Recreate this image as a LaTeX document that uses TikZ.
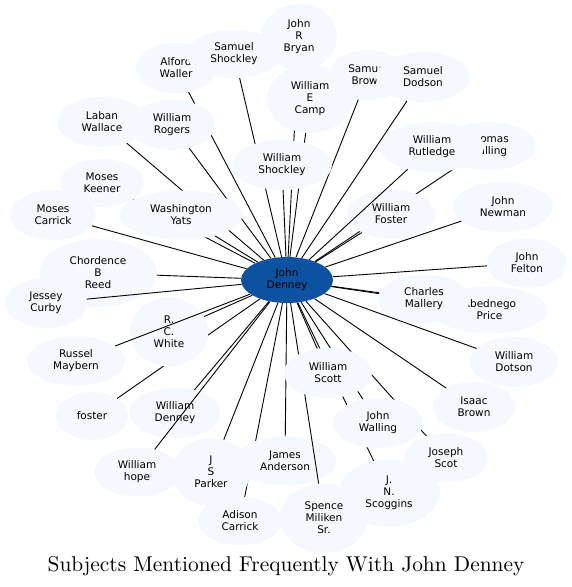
\documentclass[tikz,border=0pt]{standalone}
\usepackage{fontspec}
\newfontfamily\nodefont{DejaVu Sans}
\newfontfamily\titlefont{lmroman10-regular.otf}
\usetikzlibrary{shapes.geometric}
\definecolor{nfill}{RGB}{245,249,255}
\definecolor{cfill}{RGB}{12,82,160}
\pgfdeclarelayer{bg}
\pgfdeclarelayer{fg}
\pgfsetlayers{bg,main,fg}
\tikzset{
  person/.style={ellipse, fill=nfill, inner sep=0pt, align=center,
    font=\nodefont\fontsize{10.5}{12}\selectfont},
  sz/.style 2 args={minimum width=#1pt, minimum height=#2pt},
  link/.style={draw=black, line width=0.9pt},
}
\newcommand\edgeto[1]{\draw[link] (c) -- (#1);}
\begin{document}
\begin{tikzpicture}[x=1pt,y=-1pt]
\useasboundingbox (0,0) rectangle (572,587);
\begin{pgfonlayer}{fg}
\node[ellipse, fill=cfill, inner sep=0pt, sz={92}{46}, align=center,
  font=\nodefont\fontsize{10.5}{12}\selectfont, text=black] (c) at (287,280) {John\\Denney};
\end{pgfonlayer}
% nodes
\node[person, sz={80}{50}] (aw) at (176,68) {Alford\\Waller};
\node[person, sz={96}{48}] (ss) at (234,54) {Samuel\\Shockley};
\node[person, sz={76}{66}] (jb) at (299,37) {John\\R\\Bryan};
\node[person, sz={86}{68}] (wc) at (310,99) {William\\E\\Camp};
\node[person, sz={78}{50}] (sb) at (368,75) {Samuel\\Brown};
\node[person, sz={94}{50}] (sd) at (423,77) {Samuel\\Dodson};
\node[person, sz={90}{50}] (lw) at (102,122) {Laban\\Wallace};
\node[person, sz={86}{50}] (wr) at (172,125) {William\\Rogers};
\node[person, sz={100}{50}] (ws) at (282,165) {William\\Shockley};
\node[person, sz={96}{48}] (tw) at (488,146) {Thomas\\Walling};
\node[person, sz={104}{50}] (wru) at (432,147) {William\\Rutledge};
\node[person, sz={84}{48}] (mk) at (102,183) {Moses\\Keener};
\node[person, sz={86}{50}] (mc) at (53,215) {Moses\\Carrick};
\node[person, sz={123}{49}] (wy) at (181,215) {Washington\\Yats};
\node[person, sz={88}{49}] (wf) at (391,214) {William\\Foster};
\node[person, sz={100}{50}] (jn) at (503,207) {John\\Newman};
\node[person, sz={117}{68}] (cr) at (98,273) {Chordence\\B\\Reed};
\node[person, sz={82}{50}] (jc) at (46,303) {Jessey\\Curby};
\node[person, sz={80}{49}] (jf) at (527,263) {John\\Felton};
\node[person, sz={116}{47}] (ap) at (489.5,310) {Abednego\\Price};
\node[person, sz={92}{49}] (cm) at (424,299) {Charles\\Mallery};
\node[person, sz={78}{69}] (rw) at (169,332) {R.\\C.\\White};
\node[person, sz={98}{49}] (rm) at (76,361) {Russel\\Maybern};
\node[person, sz={88}{50}] (wd) at (514,362) {William\\Dotson};
\node[person, sz={82}{50}] (ib) at (474,407) {Isaac\\Brown};
\node[person, sz={72}{48}] (fo) at (92,416) {foster};
\node[person, sz={91}{50}] (wde) at (175,413) {William\\Denney};
\node[person, sz={103}{49}] (ja) at (285,461) {James\\Anderson};
\node[person, sz={102}{67}] (js) at (389,493) {J.\\N.\\Scoggins};
\node[person, sz={88}{69}] (sm) at (324,518) {Spence\\Miliken\\Sr.};
\edgeto{sm}
\node[person, sz={88}{50}] (wsc) at (328,373) {William\\Scott};
\node[person, sz={90}{50}] (jw) at (378,423) {John\\Walling};
\node[person, sz={84}{49}] (jsc) at (446,458) {Joseph\\Scot};
\node[person, sz={86}{49}] (wh) at (137,472) {William\\hope};
\node[person, sz={78}{68}] (jp) at (211,472) {J\\S\\Parker};
\node[person, sz={84}{48}] (ac) at (240,521) {Adison\\Carrick};
% edges under nodes
\begin{pgfonlayer}{bg}
\foreach \n in {aw,ss,jb,wc,sb,sd,lw,wr,ws,tw,mk,mc,wy,wf,jn,cr,jf,ap,cm,rw,wd,ib,fo,wde,ja,js,wsc,jw,jsc,jp,ac}{\edgeto{\n}}
\end{pgfonlayer}
% edges over some nodes
\edgeto{jc}
\edgeto{rm}
\edgeto{wh}
\edgeto{wru}
\node[font=\titlefont\fontsize{21.4}{25}\selectfont, anchor=base] (title) at (286,571) {Subjects Mentioned Frequently With John Denney};
\end{tikzpicture}
\end{document}
